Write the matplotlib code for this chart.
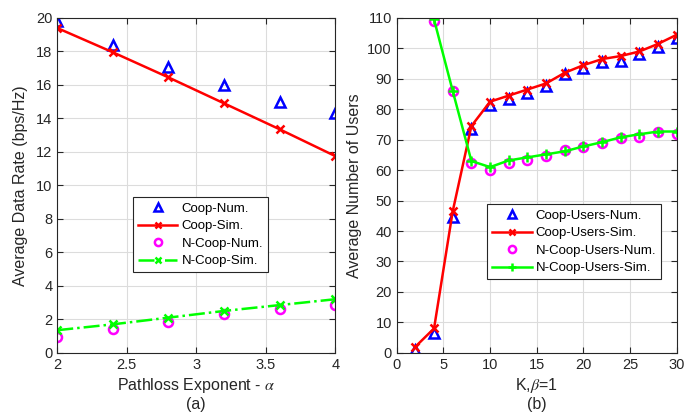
import matplotlib
matplotlib.use("Agg")
import matplotlib.pyplot as plt

plt.rcParams['font.family'] = ['Liberation Sans', 'DejaVu Sans']
plt.rcParams['mathtext.fontset'] = 'stix'

# (a) data rate vs pathloss exponent
alpha = [2, 2.4, 2.8, 3.2, 3.6, 4]
coop_num = [19.8, 18.4, 17.1, 16.0, 15.0, 14.3]
coop_sim = [19.4, 17.95, 16.45, 14.9, 13.35, 11.75]
ncoop_num = [0.95, 1.4, 1.85, 2.3, 2.6, 2.85]
ncoop_sim = [1.35, 1.7, 2.1, 2.5, 2.85, 3.2]

# (b) number of users vs K
k_vals = [2, 4, 6, 8, 10, 12, 14, 16, 18, 20, 22, 24, 26, 28, 30]
coop_users_num = [0.8, 6.5, 44.5, 73.5, 81.5, 83.5, 85.5, 87.5, 91.5, 93.5, 95.5, 96, 98, 100.5, 103.5]
coop_users_sim = [2, 8, 46.5, 74.5, 82.5, 84.5, 86.5, 88.5, 92, 94.5, 96.5, 97.5, 99, 101.5, 104.5]
k_ncoop = [4, 6, 8, 10, 12, 14, 16, 18, 20, 22, 24, 26, 28, 30]
ncoop_users_num = [109, 86, 62.5, 60.2, 62.5, 63.5, 64.5, 66.5, 67.5, 69, 70.5, 71, 72.5, 72]
ncoop_users_sim = [109.5, 86, 63, 61, 63.2, 64.2, 65.2, 66.2, 67.8, 69.2, 70.8, 71.8, 72.7, 72.7]

txt = '#262626'
fig = plt.figure(figsize=(6.95, 4.18), dpi=100)
ax1 = fig.add_axes([0.0824, 0.156, 0.4, 0.801])
ax2 = fig.add_axes([0.5708, 0.156, 0.403, 0.801])


def style(ax):
    ax.grid(True, color='#dcdcdc', linewidth=0.8)
    ax.set_axisbelow(True)
    ax.tick_params(direction='in', top=True, right=True, labelsize=10.5,
                   colors=txt, length=4, width=0.8)
    for s in ax.spines.values():
        s.set_color(txt)
        s.set_linewidth(0.8)


def make_legend(ax, anchor):
    leg = ax.legend(loc='upper left', bbox_to_anchor=anchor, fontsize=9.5,
                    frameon=True, fancybox=False, edgecolor=txt, framealpha=1,
                    borderpad=0.4, labelspacing=0.4, handlelength=3.0,
                    handletextpad=0.3, borderaxespad=0, markerscale=0.8)
    leg.get_frame().set_linewidth(0.8)
    for t in leg.get_texts():
        t.set_color('black')
    return leg


ax1.plot(alpha, coop_num, linestyle='none', marker='^', color='blue', mfc='none',
         mew=1.8, ms=7, label='Coop-Num.')
ax1.plot(alpha, coop_sim, '-', color='red', marker='x', lw=1.8, mew=1.8, ms=6,
         label='Coop-Sim.')
ax1.plot(alpha, ncoop_num, linestyle='none', marker='o', color='magenta', mfc='none',
         mew=1.8, ms=6.5, label='N-Coop-Num.')
ax1.plot(alpha, ncoop_sim, '-.', color='#00ff00', marker='x', lw=1.8, mew=1.8, ms=6,
         label='N-Coop-Sim.')
ax1.set_xlim(2, 4)
ax1.set_ylim(0, 20)
ax1.set_xticks([2, 2.5, 3, 3.5, 4])
ax1.set_xticklabels(['2', '2.5', '3', '3.5', '4'])
ax1.set_yticks(range(0, 21, 2))
style(ax1)
ax1.set_xlabel('Pathloss Exponent - $\\alpha$\n(a)', fontsize=11.5, color=txt,
               linespacing=1.2, labelpad=3)
ax1.set_ylabel('Average Data Rate (bps/Hz)', fontsize=11.5, color=txt, labelpad=6)
make_legend(ax1, (0.271, 0.465))

ax2.plot(k_vals, coop_users_num, linestyle='none', marker='^', color='blue', mfc='none',
         mew=1.8, ms=7, label='Coop-Users-Num.')
ax2.plot(k_vals, coop_users_sim, '-', color='red', marker='x', lw=1.8, mew=1.8, ms=6,
         label='Coop-Users-Sim.')
ax2.plot(k_ncoop, ncoop_users_num, linestyle='none', marker='o', color='magenta', mfc='none',
         mew=1.8, ms=6.5, label='N-Coop-Users-Num.')
ax2.plot(k_ncoop, ncoop_users_sim, '-', color='#00ff00', marker='+', lw=1.8, mew=1.8, ms=7,
         label='N-Coop-Users-Sim.')
ax2.set_xlim(0, 30)
ax2.set_ylim(0, 110)
ax2.set_xticks(range(0, 31, 5))
ax2.set_yticks(range(0, 111, 10))
style(ax2)
ax2.set_xlabel('K,$\\beta$=1\n(b)', fontsize=11.5, color=txt, linespacing=1.2, labelpad=3)
ax2.set_ylabel('Average Number of Users', fontsize=11.5, color=txt, labelpad=4)
make_legend(ax2, (0.322, 0.444))

fig.savefig('out.png', dpi=100)
